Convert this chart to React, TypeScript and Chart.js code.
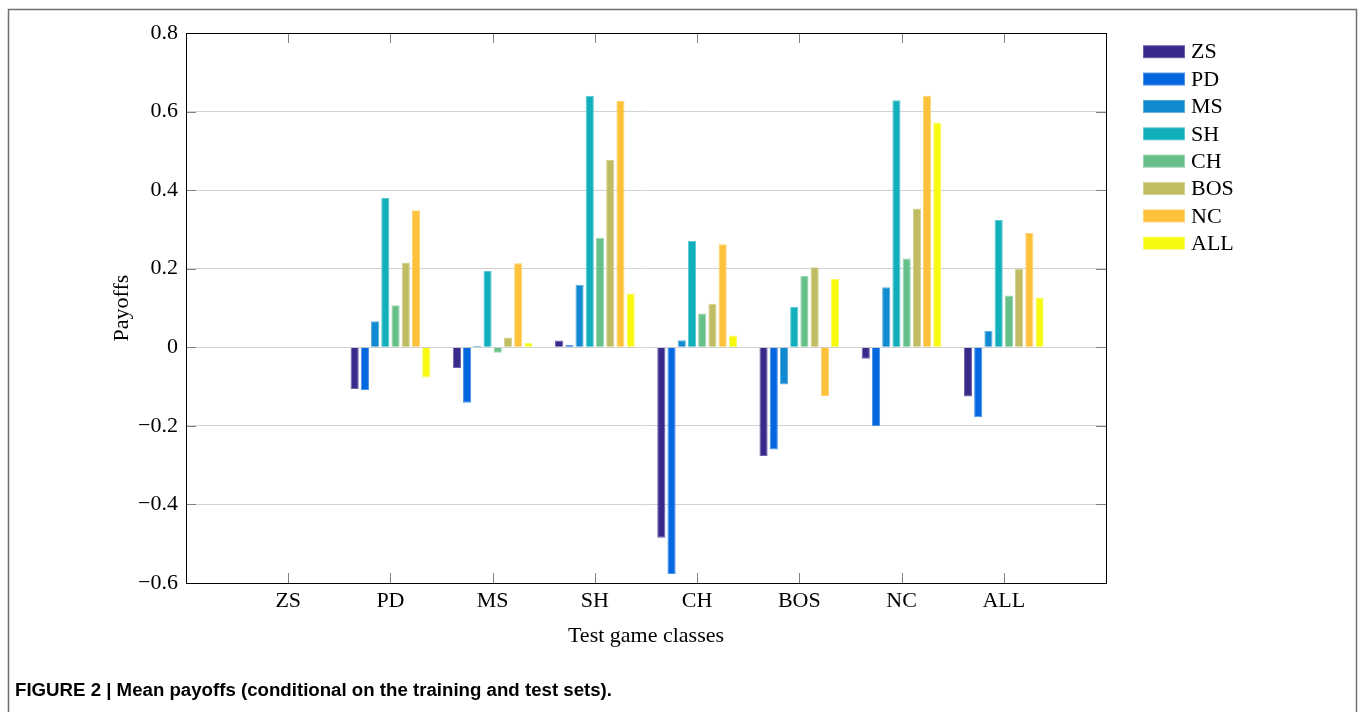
import React, { useEffect, useRef } from "react";
import { Chart, registerables } from "chart.js";

Chart.register(...registerables);

// Test game classes (x categories)
const categories = ["ZS", "PD", "MS", "SH", "CH", "BOS", "NC", "ALL"];

// Training classes (series)
const seriesNames = ["ZS", "PD", "MS", "SH", "CH", "BOS", "NC", "ALL"];
const zsValues = [0, -0.106, -0.053, 0.017, -0.485, -0.277, -0.029, -0.125];
const pdValues = [0, -0.109, -0.141, 0.006, -0.577, -0.26, -0.201, -0.178];
const msValues = [0, 0.066, 0.004, 0.159, 0.018, -0.095, 0.153, 0.042];
const shValues = [0, 0.38, 0.194, 0.64, 0.271, 0.103, 0.629, 0.324];
const chValues = [0, 0.107, -0.014, 0.279, 0.086, 0.182, 0.226, 0.132];
const bosValues = [0, 0.216, 0.025, 0.477, 0.111, 0.204, 0.353, 0.2];
const ncValues = [0, 0.349, 0.214, 0.627, 0.262, -0.124, 0.64, 0.291];
const allValues = [0, -0.077, 0.011, 0.137, 0.03, 0.174, 0.572, 0.127];
const seriesValues = [zsValues, pdValues, msValues, shValues, chValues, bosValues, ncValues, allValues];

const seriesColors = ["#372a8a", "#0567e0", "#128ad1", "#11aebb", "#67bf89", "#c0bc62", "#fdc13a", "#f7f90f"];
const seriesBorders = ["#6d63a8", "#4d93ea", "#5aaedd", "#5ac8d0", "#98d4ae", "#d5d293", "#fdd473", "#f9fa63"];

const yTickValues = [-0.6, -0.4, -0.2, 0, 0.2, 0.4, 0.6, 0.8];
const yMin = -0.6;
const yMax = 0.8;

const xTitle = "Test game classes";
const yTitle = "Payoffs";
const caption = "FIGURE 2 | Mean payoffs (conditional on the training and test sets).";

const SERIF = "'Liberation Serif', 'Times New Roman', serif";

function fmt(v: number): string {
  if (Math.abs(v) < 1e-9) return "0";
  const s = Math.abs(v).toFixed(1);
  return v < 0 ? "\u2212" + s : s;
}

export default function App() {
  const ref = useRef<HTMLCanvasElement | null>(null);

  useEffect(() => {
    if (!ref.current) return;
    const labels = ["", ...categories, ""];
    const datasets = seriesNames.map((name, i) => ({
      label: name,
      data: [null, ...seriesValues[i], null],
      backgroundColor: seriesColors[i],
      borderColor: seriesBorders[i],
      borderWidth: 1,
      barPercentage: 0.8,
      categoryPercentage: 0.8,
    }));

    const decor = {
      id: "decor",
      beforeDraw(chart: any) {
        const ctx = chart.ctx;
        ctx.save();
        ctx.fillStyle = "#ffffff";
        ctx.fillRect(0, 0, chart.width, chart.height);
        ctx.strokeStyle = "#707070";
        ctx.lineWidth = 1.5;
        ctx.strokeRect(8.5, 9.5, 1348, 760);
        ctx.restore();
      },
      afterDraw(chart: any) {
        const ctx = chart.ctx;
        const a = chart.chartArea;
        const xs = chart.scales.x;
        const ys = chart.scales.y;
        ctx.save();
        // tick marks
        ctx.strokeStyle = "#808080";
        ctx.lineWidth = 1;
        for (let i = 1; i <= categories.length; i++) {
          const x = Math.round(xs.getPixelForValue(i)) + 0.5;
          ctx.beginPath();
          ctx.moveTo(x, a.bottom);
          ctx.lineTo(x, a.bottom - 10);
          ctx.moveTo(x, a.top);
          ctx.lineTo(x, a.top + 10);
          ctx.stroke();
        }
        for (const v of yTickValues) {
          const y = Math.round(ys.getPixelForValue(v)) + 0.5;
          ctx.beginPath();
          ctx.moveTo(a.left, y);
          ctx.lineTo(a.left + 10, y);
          ctx.moveTo(a.right, y);
          ctx.lineTo(a.right - 10, y);
          ctx.stroke();
        }
        // plot box
        ctx.strokeStyle = "#000000";
        ctx.lineWidth = 1;
        ctx.strokeRect(Math.round(a.left) + 0.5, Math.round(a.top) + 0.5, Math.round(a.right - a.left), Math.round(a.bottom - a.top));
        // titles
        ctx.fillStyle = "#000000";
        ctx.font = `22px ${SERIF}`;
        ctx.textAlign = "center";
        ctx.textBaseline = "middle";
        ctx.fillText(xTitle, (a.left + a.right) / 2, 636);
        ctx.save();
        ctx.translate(122, (a.top + a.bottom) / 2);
        ctx.rotate(-Math.PI / 2);
        ctx.fillText(yTitle, 0, 0);
        ctx.restore();
        // legend
        ctx.textAlign = "left";
        for (let i = 0; i < seriesNames.length; i++) {
          const cy = 51.7 + i * 27.37;
          ctx.fillStyle = seriesBorders[i];
          ctx.fillRect(1143, cy - 6.5, 42, 13);
          ctx.fillStyle = seriesColors[i];
          ctx.fillRect(1144, cy - 5.5, 40, 11);
          ctx.fillStyle = "#000000";
          ctx.fillText(seriesNames[i], 1191, cy + 1);
        }
        // caption
        ctx.font = "bold 18px 'Liberation Sans', Arial, sans-serif";
        ctx.textBaseline = "alphabetic";
        const w = ctx.measureText(caption).width;
        const sx = 597 / w;
        ctx.save();
        ctx.translate(15, 696);
        ctx.scale(sx, 1);
        ctx.fillStyle = "#000000";
        ctx.fillText(caption, 0, 0);
        ctx.restore();
        ctx.restore();
      },
    };

    const chart = new Chart(ref.current, {
      type: "bar",
      data: { labels, datasets: datasets as any },
      options: {
        animation: false,
        responsive: false,
        maintainAspectRatio: false,
        layout: { padding: { left: 0, top: 33, right: 254, bottom: 0 } },
        plugins: { legend: { display: false }, tooltip: { enabled: false } },
        scales: {
          x: {
            type: "category",
            offset: false,
            grid: { display: false, drawTicks: false },
            border: { display: true, color: "#000000", width: 1 },
            ticks: {
              autoSkip: false,
              maxRotation: 0,
              padding: 5,
              color: "#000000",
              font: { family: SERIF, size: 22 },
            },
            afterFit(scale: any) {
              scale.height = 129;
            },
          },
          y: {
            type: "linear",
            min: yMin,
            max: yMax,
            grid: { color: "#d2d2d2", lineWidth: 1, drawTicks: false },
            border: { display: true, color: "#000000", width: 1 },
            ticks: {
              stepSize: 0.2,
              padding: 8,
              color: "#000000",
              font: { family: SERIF, size: 22 },
              callback: (v: any) => fmt(Number(v)),
            },
            afterFit(scale: any) {
              scale.width = 186;
            },
          },
        },
      },
      plugins: [decor],
    });
    return () => chart.destroy();
  }, []);

  return (
    <div style={{ position: "absolute", left: 0, top: 0, width: 1360, height: 712, background: "#fff" }}>
      <canvas ref={ref} width={1360} height={712} style={{ width: 1360, height: 712, display: "block" }} />
    </div>
  );
}
